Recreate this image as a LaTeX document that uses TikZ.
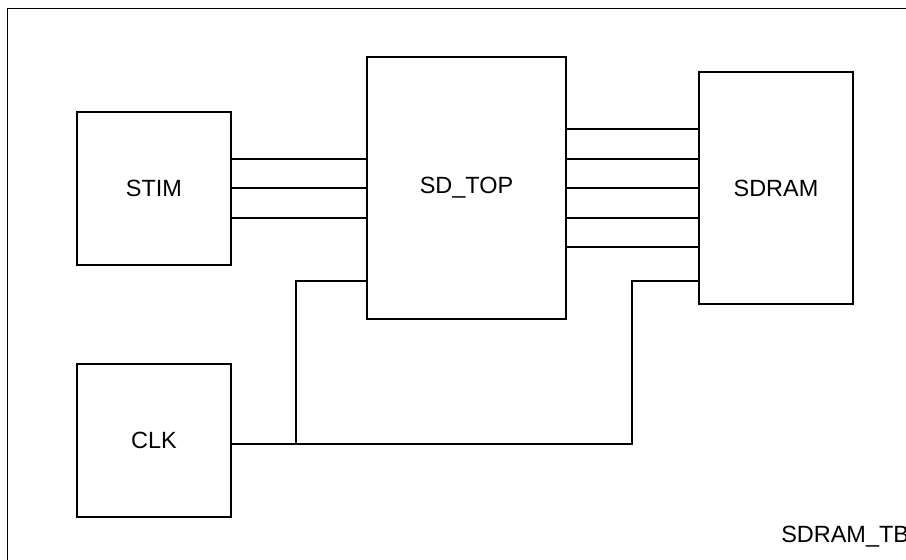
\documentclass[tikz,border=0pt]{standalone}
\usepackage{fontspec}
\setmainfont{Liberation Sans}
\usetikzlibrary{positioning}

\begin{document}
\begin{tikzpicture}[x=0.75pt,y=-0.75pt]
    \tikzset{blk/.style={draw,line width=0.8pt,inner sep=0pt,outer sep=0pt,font=\fontsize{17.6}{20}\selectfont}, wire/.style={line width=0.8pt}}
    \useasboundingbox (0,0) rectangle (906,560);
    \clip (0,0) rectangle (906,560);
    \draw[line width=1.2pt] (7.5,8.5) rectangle (940,590);
    \node[blk,minimum width=115.5pt,minimum height=114.75pt] (stim) at (154,188.5) {STIM};
    \node[blk,minimum width=149.25pt,minimum height=196.5pt] (sdtop) at (466.5,188) {SD\_TOP};
    \node[blk,minimum width=115.5pt,minimum height=174pt] (sdram) at (776,188) {SDRAM};
    \node[blk,minimum width=115.5pt,minimum height=114.75pt] (clk) at (154,440.5) {CLK};
    \node[anchor=west,inner sep=0pt,font=\fontsize{17.6}{20}\selectfont] (tb) at (781,537) {SDRAM\_TB};
    \foreach \y in {159,188,218}
      \draw[wire] (stim.east |- 0,\y) -- (sdtop.west |- 0,\y);
    \foreach \y in {129,159,188,218,247}
      \draw[wire] (sdtop.east |- 0,\y) -- (sdram.west |- 0,\y);
    \coordinate (tapa) at (296,444);
    \coordinate (tapb) at (632,444);
    \draw[wire] (clk.east |- tapa) -- (tapb) |- (sdram.west |- 0,281);
    \draw[wire] (tapa) |- (sdtop.west |- 0,281);
  \end{tikzpicture}
\end{document}
